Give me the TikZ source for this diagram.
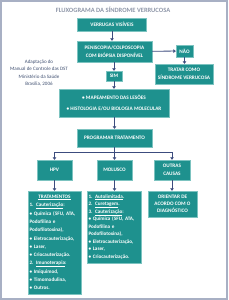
\documentclass[tikz,border=0pt]{standalone}
\usepackage{fontspec}
\setmainfont{Carlito}
\usetikzlibrary{arrows.meta}
\definecolor{ColorCaixa}{HTML}{1E918E}
\definecolor{ColorBorda}{HTML}{7CC3C0}
\definecolor{ColorSeta}{HTML}{3C4C7E}
\definecolor{ColorMoldura}{HTML}{A8B0C4}
\definecolor{ColorTitulo}{HTML}{8E96A8}
\definecolor{ColorTexto}{HTML}{3F4F70}

\begin{document}
\begin{tikzpicture}[x=2pt, y=-2pt,
    caixa/.style={draw=ColorBorda, fill=ColorCaixa, text=white, line width=0.6pt,
        inner sep=0pt, align=center, font=\bfseries\fontsize{10.5}{15}\selectfont},
    lista/.style={caixa, align=left, inner xsep=3pt},
    linha/.style={draw=ColorSeta, line width=1.6pt},
    seta/.style={linha, -{Triangle[width=7pt,length=5pt]}}]
        \useasboundingbox (0,0) rectangle (228,300);
        \draw[ColorMoldura, line width=3pt] (1,1) rectangle (227,299);
        \node[text=ColorTitulo, font=\bfseries\fontsize{13}{15}\selectfont] (titulo) at (113,10) {FLUXOGRAMA DA SÍNDROME VERRUCOSA};
        \node[text=ColorTexto, align=center, font=\fontsize{10.1}{14.6}\selectfont] (fonte) at (39,73)
            {Adaptação do\\Manual de Controle das DST\\Ministério da Saúde\\Brasília, 2006};
        % coluna central
        \node[caixa, minimum width=138pt, minimum height=26pt] (verrugas) at (112,24.5) {VERRUGAS VISÍVEIS};
        \node[caixa, minimum width=150pt, minimum height=42pt] (biopsia) at (114.5,51.5) {PENISCOPIA/COLPOSCOPIA\\COM BIÓPSIA DISPONÍVEL};
        \node[caixa, minimum width=34pt, minimum height=24pt] (nao) at (184.5,51) {NÃO};
        \node[caixa, minimum width=116pt, minimum height=40pt] (tratar) at (184,74) {TRATAR COMO\\SÍNDROME VERRUCOSA};
        \node[caixa, minimum width=32pt, minimum height=20pt] (sim) at (114,76) {SIM};
        \node[caixa, minimum width=220pt, minimum height=56pt] (mapa) at (114,103)
            {• MAPEAMENTO DAS LESÕES\\[7pt]• HISTOLOGIA E/OU BIOLOGIA MOLECULAR};
        \node[caixa, minimum width=150pt, minimum height=36pt] (programar) at (114.5,138) {PROGRAMAR TRATAMENTO};
        % tres ramos
        \node[caixa, minimum width=70pt, minimum height=40pt] (hpv) at (54.5,170) {HPV};
        \node[caixa, minimum width=70pt, minimum height=40pt] (molusco) at (114.5,170) {MOLUSCO};
        \node[caixa, minimum width=72pt, minimum height=40pt] (outras) at (172,170) {OUTRAS\\CAUSAS};
        \node[lista, text width=100pt, minimum height=206pt, font=\bfseries\fontsize{10.3}{16.6}\selectfont] (trathpv) at (54.5,242.5)
            {\hfil\underline{TRATAMENTOS}\hfil\\
             1. \underline{Cauterização}:\\
             • Química (5FU, ATA,\\
             Podofilina e\\
             Podofilotoxina),\\
             • Eletrocauterização,\\
             • Laser,\\
             • Criocauterização.\\
             2. \underline{Imunoterapia}:\\
             • Imiquimod,\\
             • Timomodulina,\\
             • Outros.};
        \node[lista, text width=102pt, minimum height=144pt, font=\bfseries\fontsize{10.3}{15}\selectfont] (tratmol) at (114,227)
            {1. \underline{Autolimitada}.\\
             2. \underline{Curetagem}.\\
             3. \underline{Cauterização}:\\
             • Química (5FU, ATA,\\
             Podofilina e\\
             Podofilotoxina),\\
             • Eletrocauterização,\\
             • Laser,\\
             • Criocauterização.};
        \node[caixa, minimum width=98pt, minimum height=52pt, font=\bfseries\fontsize{10.5}{14}\selectfont] (orientar) at (172.5,204)
            {ORIENTAR DE\\ACORDO COM O\\DIAGNÓSTICO};
        % setas
        \draw[seta] (verrugas) -- (verrugas.south |- biopsia.north);
        \draw[seta] (biopsia) -- (nao);
        \draw[seta] (nao) -- (nao.south |- tratar.north);
        \draw[seta] (biopsia.south -| sim) -- (sim);
        \draw[seta] (sim) -- (sim.south |- mapa.north);
        \draw[seta] (mapa.south -| programar) -- (programar);
        \coordinate (divisao) at (114.5,152);
        \draw[linha] (programar) -- (divisao);
        \draw[seta] (divisao) -| (hpv);
        \draw[seta] (divisao) -- (molusco);
        \draw[seta] (divisao) -| (outras);
        \draw[seta] (hpv) -- (hpv.south |- trathpv.north);
        \draw[seta] (molusco) -- (molusco.south |- tratmol.north);
        \draw[seta] (outras) -- (outras.south |- orientar.north);
\end{tikzpicture}
\end{document}
